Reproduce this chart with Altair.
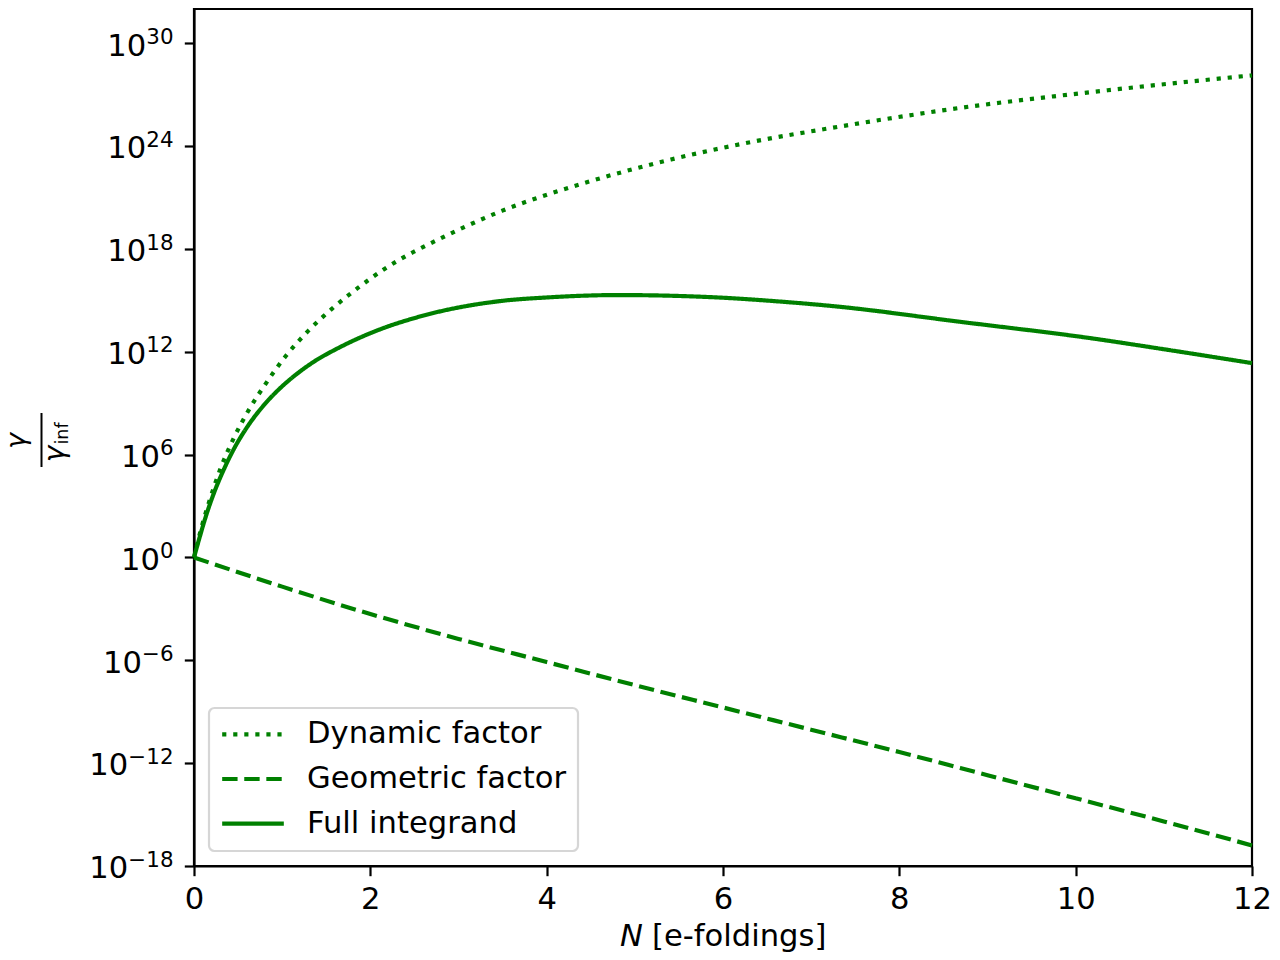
import altair as alt
import pandas as pd

# ---- data (log10 of gamma / gamma_inf) ----
series_names = ["Dynamic factor", "Geometric factor", "Full integrand"]

dyn_N = [0, 0.085, 0.181, 0.294, 0.444, 0.613, 0.82, 1.039, 1.29, 1.56, 1.855,
         2.156, 2.483, 2.59, 3.49, 4.43, 5.41, 6.31, 7.24, 8.69, 10.19, 12.0]
dyn_log = [0, 1.75, 3.4, 5.1, 6.89, 8.53, 10.19, 11.74, 13.19, 14.49, 15.71,
           16.82, 17.81, 18.09, 20.22, 21.85, 23.22, 24.23, 25.07, 26.23, 27.16, 28.13]

geo_N = [0, 1, 2, 3, 4, 5, 6, 7, 8, 9, 10, 11, 12]
geo_log = [0, -1.7, -3.3, -4.75, -6.1, -7.45, -8.75, -10.05, -11.35, -12.7,
           -14.05, -15.4, -16.8]

full_N = [0, 0.068, 0.124, 0.218, 0.331, 0.444, 0.595, 0.783, 0.971, 1.159,
          1.347, 1.648, 2.1, 2.55, 3.49, 4.0, 4.81, 5.94, 6.6, 7.26, 8.69,
          10.19, 11.0, 12.0]
full_log = [0, 1.25, 2.23, 3.65, 5.05, 6.25, 7.55, 8.83, 9.85, 10.68, 11.38,
            12.25, 13.29, 14.04, 14.97, 15.17, 15.31, 15.17, 14.95, 14.66,
            13.75, 12.78, 12.15, 11.34]

x_ticks = [0, 2, 4, 6, 8, 10, 12]
y_tick_exps = [-18, -12, -6, 0, 6, 12, 18, 24, 30]
y_tick_sup = ["−18", "−12", "−6", "0", "6", "12", "18", "24", "30"]

rows = []
for name, ns, ls in [(series_names[0], dyn_N, dyn_log),
                     (series_names[1], geo_N, geo_log),
                     (series_names[2], full_N, full_log)]:
    for n, l in zip(ns, ls):
        rows.append({"N": n, "value": 10.0 ** l, "series": name})
df = pd.DataFrame(rows)

GREEN = "#008000"
FS = 30.6
SUP = 21.4
FONT = "DejaVu Sans"


def sup_width(s):
    return sum(0.838 if c == "−" else 0.6362 for c in s) * SUP


ticks_df = pd.DataFrame({
    "value": [10.0 ** e for e in y_tick_exps],
    "base": ["10"] * len(y_tick_exps),
    "sup": y_tick_sup,
    "w": [round(sup_width(s), 1) for s in y_tick_sup],
})
y_tick_values = [10.0 ** e for e in y_tick_exps]

xscale = alt.Scale(domain=[0, 12], nice=False, zero=False)
yscale = alt.Scale(type="log", domain=[1e-18, 1e32], nice=False)

lines = alt.Chart(df).mark_line(
    color=GREEN, strokeWidth=4.17, strokeCap="butt", interpolate="monotone"
).encode(
    x=alt.X("N:Q", scale=xscale,
            axis=alt.Axis(values=x_ticks, title=None, format="d",
                          labelPadding=8.5, labelFlush=False)),
    y=alt.Y("value:Q", scale=yscale,
            axis=alt.Axis(values=y_tick_values, labels=False, title=None)),
    strokeDash=alt.StrokeDash(
        "series:N",
        scale=alt.Scale(domain=series_names,
                        range=[[4.17, 6.88], [15.4, 6.67], [1, 0]]),
        legend=alt.Legend(title=None, orient="bottom-left", offset=15,
                          symbolType="stroke", symbolSize=3800,
                          symbolStrokeWidth=4.17, symbolStrokeColor=GREEN,
                          labelFont=FONT, labelFontSize=FS, labelColor="black",
                          labelLimit=600, clipHeight=30.6,
                          padding=11, rowPadding=13.7, labelOffset=21,
                          strokeColor="#d6d6d6", fillColor="white",
                          cornerRadius=5.5),
    ),
)

# y tick labels "10" + superscript exponent, placed through the y scale
RIGHT = -20.5
sup_layer = alt.Chart(ticks_df).mark_text(
    font=FONT, fontSize=SUP, align="right", baseline="alphabetic",
    color="black", dy=0.6
).encode(text="sup:N", x=alt.value(RIGHT), y=alt.Y("value:Q", scale=yscale))

base_layers = []
for w in sorted(set(ticks_df["w"])):
    base_layers.append(
        alt.Chart(ticks_df).transform_filter(alt.datum.w == w).mark_text(
            font=FONT, fontSize=FS, align="right", baseline="alphabetic",
            color="black", dy=12.3
        ).encode(text="base:N", x=alt.value(RIGHT - w),
                 y=alt.Y("value:Q", scale=yscale))
    )

# y-axis title: gamma / gamma_inf as a fraction
num = alt.Chart(pd.DataFrame({"t": ["γ"]})).mark_text(
    font=FONT, fontSize=27, fontStyle="italic", angle=270, align="center",
    baseline="alphabetic", color="black"
).encode(text="t:N", x=alt.value(-169), y=alt.value(432))
bar = alt.Chart(pd.DataFrame({"t": [1]})).mark_rule(
    color="black", strokeWidth=2
).encode(x=alt.value(-152.5), y=alt.value(404), y2=alt.value(458))
den = alt.Chart(pd.DataFrame({"t": ["γ"]})).mark_text(
    font=FONT, fontSize=28, fontStyle="italic", angle=270, align="center",
    baseline="alphabetic", color="black"
).encode(text="t:N", x=alt.value(-130.5), y=alt.value(445))
sub = alt.Chart(pd.DataFrame({"t": ["inf"]})).mark_text(
    font=FONT, fontSize=17.5, angle=270, align="left",
    baseline="alphabetic", color="black"
).encode(text="t:N", x=alt.value(-126), y=alt.value(435.5))

# x-axis title: italic N + [e-foldings]
xt1 = alt.Chart(pd.DataFrame({"t": ["N"]})).mark_text(
    font=FONT, fontSize=FS, fontStyle="italic", align="left",
    baseline="alphabetic", color="black"
).encode(text="t:N", x=alt.value(426), y=alt.value(937))
xt2 = alt.Chart(pd.DataFrame({"t": ["[e-foldings]"]})).mark_text(
    font=FONT, fontSize=FS, align="left", baseline="alphabetic", color="black"
).encode(text="t:N", x=alt.value(458), y=alt.value(937))

chart = alt.layer(lines, sup_layer, *base_layers, num, bar, den, sub, xt1, xt2).properties(
    width=1058, height=857,
    padding={"left": 186, "top": 1, "right": 20, "bottom": 86},
    autosize=alt.AutoSizeParams(type="none"),
).configure_axis(
    domainColor="black", domainWidth=2.2, tickColor="black", tickWidth=2.2,
    tickSize=9.7, labelFont=FONT, labelFontSize=FS, labelColor="black",
    grid=False,
).configure_view(
    stroke="black", strokeWidth=2.2
).configure_legend(
    strokeWidth=2.2
)

chart.save("out.html", embed_options={"renderer": "svg", "actions": False})
